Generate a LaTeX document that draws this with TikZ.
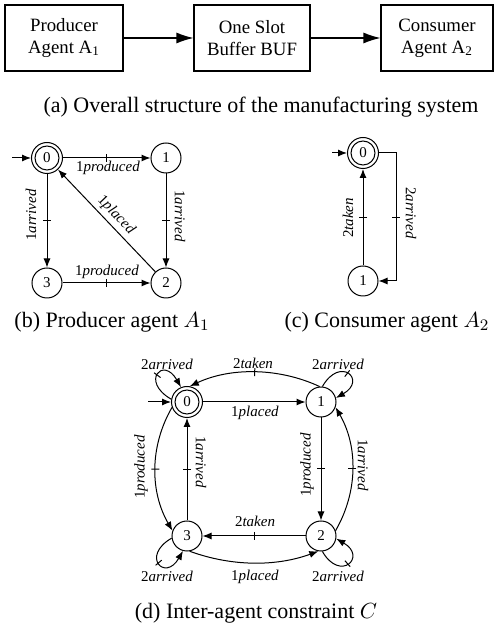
\documentclass[tikz,border=0pt]{standalone}
\usepackage{fontspec}
\setmainfont{Liberation Serif}
\usetikzlibrary{arrows.meta,decorations.markings}

\tikzset{
  state/.style={circle,draw,line width=0.5pt,minimum size=15pt,inner sep=0pt,
    font=\fontsize{7.5}{9}\selectfont},
  initstate/.style={state,minimum size=15.5pt,
    path picture={\draw[line width=0.5pt] (path picture bounding box.center) circle[radius=6pt];}},
  trans/.style={line width=0.5pt,-{Latex[length=4.5pt,width=3.5pt]}},
  ctick/.style={postaction={decorate,decoration={markings,
    mark=at position #1 with {\draw[-,line width=0.5pt] (0,-2pt)--(0,2pt);}}}},
  ctick/.default=0.5,
  lbl/.style={font=\fontsize{7.5}{9}\selectfont,inner sep=0pt},
  block/.style={draw,line width=0.6pt,minimum height=33pt,align=center,
    font=\fontsize{9.4}{11}\selectfont},
  flow/.style={line width=0.6pt,-{Latex[length=8.5pt,width=5.5pt]}},
  captext/.style={font=\fontsize{11}{13}\selectfont,inner sep=0pt}
}

\begin{document}
\begin{tikzpicture}[x=0.5pt,y=0.5pt]
\useasboundingbox (0,0) rectangle (495,627);

% ---- (a) block structure ----
\node[block,minimum width=59pt] (prod) at (64,589) {Producer\\Agent A\textsubscript{1}};
\node[block,minimum width=58pt] (buf) at (252,589) {One Slot\\Buffer BUF};
\node[block,minimum width=56pt] (cons) at (437,589) {Consumer\\Agent A\textsubscript{2}};
\draw[flow] (prod) -- (buf);
\draw[flow] (buf) -- (cons);
\node[captext] (capa) at (261,520) {(a) Overall structure of the manufacturing system};

% ---- (b) producer agent ----
\node[initstate] (b0) at (47,469) {0};
\node[state] (b1) at (166,469) {1};
\node[state] (b2) at (166,344) {2};
\node[state] (b3) at (47,344) {3};
\coordinate (b0in) at (12,469);
\draw[trans] (b0in) -- (b0);
\draw[trans,ctick] (b0) -- (b1);
\draw[trans,ctick] (b0) -- (b3);
\draw[trans,ctick] (b1) -- (b2);
\draw[trans,ctick] (b3) -- (b2);
\draw[trans] (b2) -- (b0);
\node[lbl] (lb01) at (108,459) {1\textit{produced}};
\node[lbl] (lb32) at (107,355) {1\textit{produced}};
\node[lbl,rotate=90] (lb03) at (31,412) {1\textit{arrived}};
\node[lbl,rotate=-90] (lb12) at (180,411) {1\textit{arrived}};
\node[lbl,rotate=-46.4] (lb20) at (116,412) {1\textit{placed}};
\node[captext] (capb) at (112,305) {(b) Producer agent $A_1$};

% ---- (c) consumer agent ----
\node[initstate] (c0) at (363,474) {0};
\node[state] (c1) at (363,346) {1};
\coordinate (c0in) at (332,474);
\coordinate (cr1) at (396,474);
\coordinate (cr2) at (396,346);
\draw[trans] (c0in) -- (c0);
\draw[trans,ctick] (c1) -- (c0);
\draw[trans,ctick] (c0) -- (cr1) -- (cr2) -- (c1);
\node[lbl,rotate=90] (lc10) at (348,409) {2\textit{taken}};
\node[lbl,rotate=-90] (lc01) at (411,414) {2\textit{arrived}};
\node[captext] (capc) at (387,305) {(c) Consumer agent $A_2$};

% ---- (d) inter-agent constraint ----
\node[initstate] (d0) at (187,225) {0};
\node[state] (d1) at (321,225) {1};
\node[state] (d2) at (321,91) {2};
\node[state] (d3) at (187,91) {3};
\coordinate (d0in) at (148,225);
\draw[trans] (d0in) -- (d0);
% straight transitions
\draw[trans] (d0) -- (d1);
\draw[trans,ctick] (d1) -- (d2);
\draw[trans,ctick] (d3) -- (d0);
\draw[trans,ctick] (d2) -- (d3);
% outer arcs
\draw[trans,ctick] (d1.95) .. controls +(155:45) and +(25:45) .. (d0.80);
\draw[trans,ctick] (d0.200) .. controls +(240:45) and +(120:45) .. (d3.160);
\draw[trans,ctick] (d2.20) .. controls +(60:45) and +(300:45) .. (d1.340);
\draw[trans] (d3.280) .. controls +(-20:45) and +(200:45) .. (d2.260);
% self loops
\draw[trans,ctick] (d0.170) .. controls +(150:36) and +(120:36) .. (d0.112);
\draw[trans,ctick] (d1.85) .. controls +(60:36) and +(30:36) .. (d1.15);
\draw[trans,ctick] (d3.188) .. controls +(210:36) and +(240:36) .. (d3.255);
\draw[trans,ctick] (d2.275) .. controls +(300:36) and +(330:36) .. (d2.350);
% labels
\node[lbl] (ld00a) at (167,263) {2\textit{arrived}};
\node[lbl] (ld10) at (253,264) {2\textit{taken}};
\node[lbl] (ld11) at (338,263) {2\textit{arrived}};
\node[lbl] (ld01) at (255,214) {1\textit{placed}};
\node[lbl,rotate=90] (ld03) at (141,160) {1\textit{produced}};
\node[lbl,rotate=-90] (ld30) at (201,165) {1\textit{arrived}};
\node[lbl,rotate=90] (ld12) at (307,162) {1\textit{produced}};
\node[lbl,rotate=-90] (ld21) at (363,162) {1\textit{arrived}};
\node[lbl] (ld23) at (255,106) {2\textit{taken}};
\node[lbl] (ld33) at (167,51) {2\textit{arrived}};
\node[lbl] (ld32) at (255,50) {1\textit{placed}};
\node[lbl] (ld22) at (338,51) {2\textit{arrived}};
\node[captext] (capd) at (256,14) {(d) Inter-agent constraint $C$};
\end{tikzpicture}
\end{document}
